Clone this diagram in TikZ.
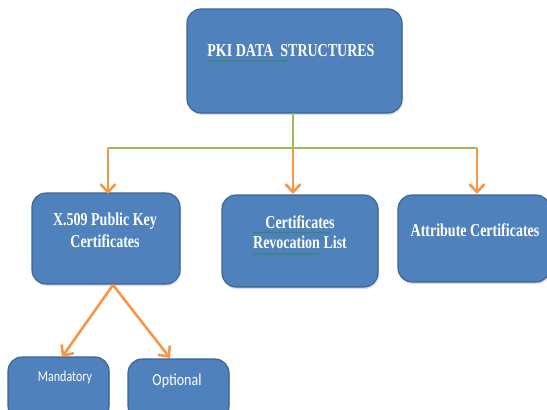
\documentclass[tikz,border=0pt]{standalone}
\usepackage{fontspec}
\usepackage{graphicx}
\setmainfont{Liberation Serif}
\newfontfamily\calibri{Carlito}
\usetikzlibrary{arrows.meta,shadows,decorations.pathmorphing}
\definecolor{boxblue}{HTML}{4F81BD}
\definecolor{boxedge}{HTML}{3A6494}
\definecolor{linkorange}{HTML}{F79646}
\definecolor{linkgreen}{HTML}{9BBB59}
\definecolor{spellgreen}{HTML}{2E8B57}
% text set slightly taller than its natural shape
\newcommand{\tallline}[1]{\scalebox{1}[1.3]{#1}}
\tikzset{
  x=1pt, y=-1pt,
  blockbox/.style={draw=boxedge, line width=1.1pt, fill=boxblue, rounded corners=14pt,
    drop shadow={shadow xshift=1pt, shadow yshift=-2pt, opacity=0.25}},
  blocktext/.style={text=white, font=\bfseries\fontsize{14}{16}\selectfont, align=center, inner sep=0pt},
  leaftext/.style={text=white, font=\calibri\fontsize{12}{14}\selectfont, inner sep=0pt},
  trunk/.style={draw=linkgreen, line width=1.6pt},
  branch/.style={draw=linkorange, line width=2.6pt, -{Straight Barb[length=8pt,width=15pt,line width=2.6pt]}},
  spell/.style={draw=spellgreen, line width=0.6pt, decorate,
    decoration={snake, amplitude=0.5pt, segment length=2.5pt}}
}
\begin{document}
\begin{tikzpicture}
\useasboundingbox (0,0) rectangle (547,410);

% boxes
\path[blockbox] (187,9) rectangle (402,113);
\path[blockbox] (32,193) rectangle (180,284);
\path[blockbox] (222,195) rectangle (378,287);
\path[blockbox] (398,195) rectangle (550,282);
\path[blockbox] (8,357) rectangle (109,420);
\path[blockbox] (128,359) rectangle (229,420);

% anchor points of the boxes
\coordinate (rootB) at (293,113);
\coordinate (junc) at (293,148);
\coordinate (jl) at (108,148);
\coordinate (jr) at (477,148);
\coordinate (xTop) at (108,194);
\coordinate (cTop) at (293,194);
\coordinate (aTop) at (477,194);
\coordinate (xBot) at (113,285);
\coordinate (mTop) at (62,357);
\coordinate (oTop) at (170,358);

% labels
\node[blocktext] (root) at (291,51) {\tallline{PKI\ DATA\ \ STRUCTURES}};
\node[blocktext] (x509) at (105,230) {\tallline{X.509 Public Key}\\[4pt]\tallline{Certificates}};
\node[blocktext] (crl) at (300,232) {\tallline{Certificates}\\[4pt]\tallline{Revocation List}};
\node[blocktext] (attr) at (475,230) {\tallline{Attribute Certificates}};
\node[leaftext] (mand) at (65,377) {\scalebox{1}[1.25]{Mandatory}};
\node[leaftext, font=\calibri\fontsize{14}{16}\selectfont] (opt) at (177,381) {\scalebox{1}[1.2]{Optional}};

% spelling marks under some words
\draw[spell] (208,61) -- (288,61);
\draw[spell] (253,232.5) -- (331,232.5);
\draw[spell] (253,254) -- (320,254);

% connectors
\draw[trunk] (rootB) -- (junc);
\draw[trunk] (jl) -- (jr);
\draw[branch] (jl) -- (xTop);
\draw[branch] (junc) -- (cTop);
\draw[branch] (jr) -- (aTop);
\draw[branch] (xBot) -- (mTop);
\draw[branch] (xBot) -- (oTop);
\end{tikzpicture}
\end{document}
